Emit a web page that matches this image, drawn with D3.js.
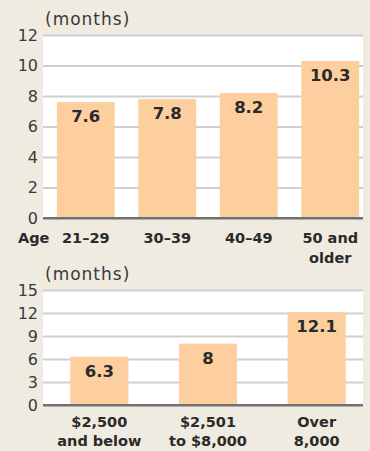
<!DOCTYPE html>
<html>
<head>
<meta charset="utf-8">
<script src="https://cdn.jsdelivr.net/npm/d3@7"></script>
<style>
  html, body { margin: 0; padding: 0; background: #efebe1; }
  svg { display: block; }
  text { font-family: "DejaVu Sans", sans-serif; }
</style>
</head>
<body>
<div id="chart"></div>
<script>
const width = 370;
const height = 451;

// age groups (top panel)
const ageLabels = ["21–29", "30–39", "40–49", "50 and\nolder"];
const ageValues = [7.6, 7.8, 8.2, 10.3];
const ageTicks = [0, 2, 4, 6, 8, 10, 12];

// income groups (bottom panel)
const incomeLabels = ["$2,500\nand below", "$2,501\nto $8,000", "Over\n8,000"];
const incomeValues = [6.3, 8, 12.1];
const incomeTicks = [0, 3, 6, 9, 12, 15];

const barColor = "#fdcf9f";
const plotLeft = 43;
const plotRight = 363;

const svg = d3
  .select("#chart")
  .append("svg")
  .attr("width", width)
  .attr("height", height);

svg.append("rect").attr("width", width).attr("height", height).attr("fill", "#efebe1");

function panel(opts) {
  const { labels, values, ticks, yTop, yBottom, padInner, labelSize, lineGap, labelBase } = opts;

  const y = d3.scaleLinear().domain([0, d3.max(ticks)]).range([yBottom, yTop]);
  const x = d3
    .scaleBand()
    .domain(labels)
    .range([45, 371])
    .paddingInner(padInner)
    .paddingOuter(padInner / 2);

  // white plot area
  svg
    .append("rect")
    .attr("x", plotLeft)
    .attr("y", yTop)
    .attr("width", plotRight - plotLeft)
    .attr("height", yBottom - yTop)
    .attr("fill", "#ffffff");

  const yAxis = svg
    .append("g")
    .attr("transform", `translate(${plotLeft},0)`)
    .call(d3.axisLeft(y).tickValues(ticks).tickSize(-(plotRight - plotLeft)).tickPadding(5));
  yAxis.select(".domain").remove();
  yAxis
    .selectAll(".tick line")
    .attr("stroke", d => (d === 0 ? "#707070" : "#cfcfcf"))
    .attr("stroke-width", 2);
  yAxis
    .selectAll(".tick text")
    .attr("font-size", 16)
    .attr("font-family", "DejaVu Sans, sans-serif")
    .attr("fill", "#3a3a3a");

  // unit label
  svg
    .append("text")
    .attr("x", 45)
    .attr("y", yTop - 10)
    .attr("font-size", 17)
    .attr("letter-spacing", 1)
    .attr("fill", "#3a3a3a")
    .text("(months)");

  // bars
  svg
    .append("g")
    .selectAll("rect")
    .data(values)
    .join("rect")
    .attr("x", (d, i) => x(labels[i]))
    .attr("y", d => y(d))
    .attr("width", x.bandwidth())
    .attr("height", d => y(0) - y(d))
    .attr("fill", barColor);

  // redraw zero line over bars
  svg
    .append("line")
    .attr("x1", plotLeft)
    .attr("x2", plotRight)
    .attr("y1", y(0))
    .attr("y2", y(0))
    .attr("stroke", "#707070")
    .attr("stroke-width", 2);

  // value labels
  svg
    .append("g")
    .selectAll("text")
    .data(values)
    .join("text")
    .attr("x", (d, i) => x(labels[i]) + x.bandwidth() / 2)
    .attr("y", d => y(d) + 20)
    .attr("text-anchor", "middle")
    .attr("font-size", 16.5)
    .attr("font-weight", "bold")
    .attr("fill", "#2a2a2a")
    .text(d => d);

  // category labels
  const xAxis = svg
    .append("g")
    .attr("transform", `translate(0,${labelBase})`)
    .call(d3.axisBottom(x).tickSize(0).tickPadding(0));
  xAxis.select(".domain").remove();
  xAxis.selectAll(".tick text").each(function (d) {
    const t = d3.select(this);
    t.text(null)
      .attr("y", 0)
      .attr("dy", null)
      .attr("font-size", labelSize)
      .attr("font-weight", "bold")
      .attr("font-family", "DejaVu Sans, sans-serif")
      .attr("fill", "#2a2a2a");
    d.split("\n").forEach((line, i) => {
      t.append("tspan").attr("x", 0).attr("y", i * lineGap).text(line);
    });
  });
  return { x, y };
}

panel({
  labels: ageLabels,
  values: ageValues,
  ticks: ageTicks,
  yTop: 35,
  yBottom: 218,
  padInner: 0.29,
  labelSize: 14.5,
  lineGap: 20,
  labelBase: 243
});

svg
  .append("text")
  .attr("x", 18)
  .attr("y", 243)
  .attr("font-size", 14.5)
  .attr("font-weight", "bold")
  .attr("fill", "#2a2a2a")
  .text("Age");

panel({
  labels: incomeLabels,
  values: incomeValues,
  ticks: incomeTicks,
  yTop: 290,
  yBottom: 405,
  padInner: 0.465,
  labelSize: 14.5,
  lineGap: 19,
  labelBase: 427
});
</script>
</body>
</html>
